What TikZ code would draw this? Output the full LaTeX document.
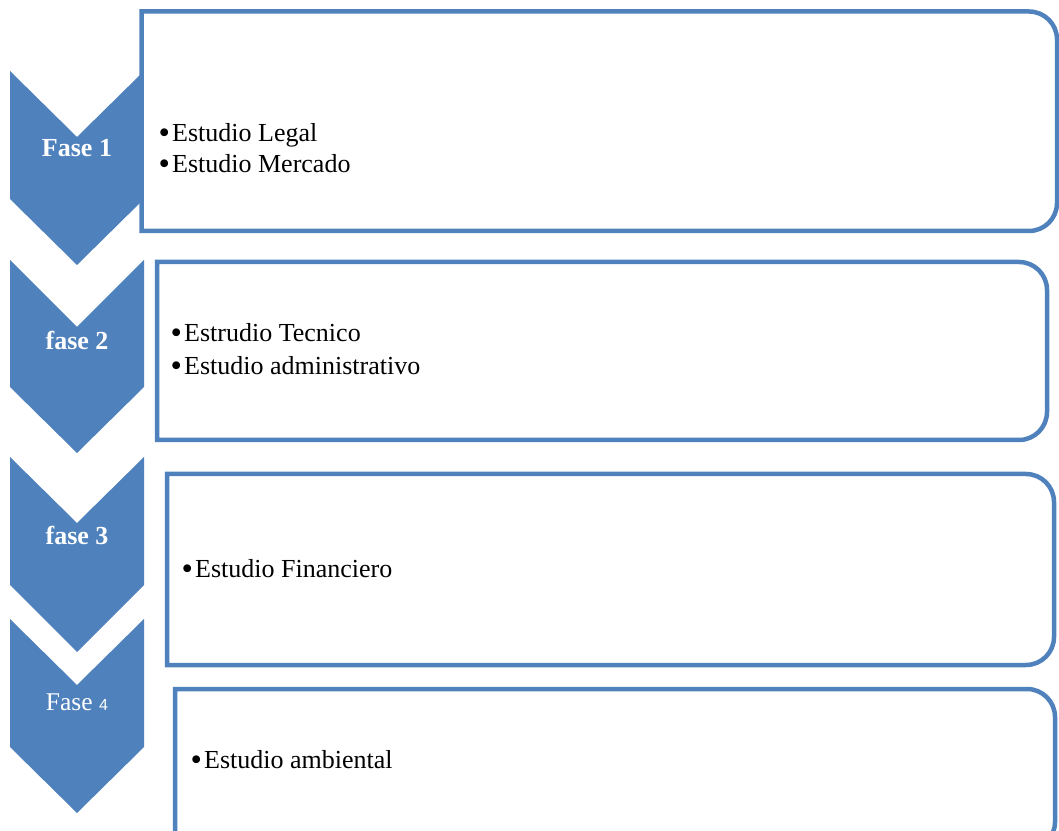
\documentclass[tikz,border=0pt]{standalone}
\usepackage{graphicx}
\usepackage{fontspec}
\setmainfont{Liberation Serif}
\newfontfamily\sansf{Liberation Sans}
\definecolor{chblue}{HTML}{4F81BD}
\tikzset{
  chevron/.style={fill=chblue, draw=none},
  listbox/.style={draw=chblue, line width=4.5pt, fill=white},
  fasetxt/.style={text=white, font=\fontsize{26}{30}\selectfont\bfseries, inner sep=0pt, anchor=base},
  itemtxt/.style={text=black, font=\fontsize{26}{30}\selectfont, inner sep=0pt, anchor=base west}
}
\newcommand\itembul{\makebox[13.5pt][l]{\raisebox{-2pt}{\scalebox{1.25}{\textbullet}}}}
\begin{document}
\begin{tikzpicture}[x=1pt,y=1pt]
\useasboundingbox (0,0) rectangle (1059,830);
\clip (0,0) rectangle (1059,830);
% chevrons
\draw[chevron] (10,759) -- (77,693) -- (144,759) -- (144,631) -- (77,565) -- (10,631) -- cycle;
\draw[chevron] (10,570) -- (77,503) -- (144,570) -- (144,443) -- (77,377) -- (10,443) -- cycle;
\draw[chevron] (10,373) -- (77,307) -- (144,373) -- (144,245) -- (77,178) -- (10,245) -- cycle;
\draw[chevron] (10,211) -- (77,145) -- (144,211) -- (144,83) -- (77,17) -- (10,83) -- cycle;
% boxes (square left corners, rounded right corners)
\draw[listbox] (141.5,818.5) -- (1029,818.5) arc[start angle=90,end angle=0,radius=28pt]
  -- (1057,627) arc[start angle=0,end angle=-90,radius=28pt] -- (141.5,599) -- cycle;
\draw[listbox] (157,568) -- (1019,568) arc[start angle=90,end angle=0,radius=28pt]
  -- (1047,418) arc[start angle=0,end angle=-90,radius=28pt] -- (157,390) -- cycle;
\draw[listbox] (167,356) -- (1026,356) arc[start angle=90,end angle=0,radius=28pt]
  -- (1054,193) arc[start angle=0,end angle=-90,radius=28pt] -- (167,165) -- cycle;
\draw[listbox] (175,141) -- (1027,141) arc[start angle=90,end angle=0,radius=28pt]
  -- (1055,8) arc[start angle=0,end angle=-90,radius=28pt] -- (175,-20) -- cycle;
% phase labels
\node[fasetxt] (f1) at (77,673) {Fase 1};
\node[fasetxt] (f2) at (77,480) {fase 2};
\node[fasetxt] (f3) at (77,285) {fase 3};
\node[fasetxt, font=\fontsize{25.5}{28}\selectfont] (f4) at (77,120) {Fase {\sansf\fontsize{16}{18}\selectfont 4}};
% items
\node[itemtxt] (a1) at (158.5,688.3) {\itembul Estudio Legal};
\node[itemtxt] (a2) at (158.5,657.3) {\itembul Estudio Mercado};
\node[itemtxt] (b1) at (170.5,488) {\itembul Estrudio Tecnico};
\node[itemtxt] (b2) at (170.5,455) {\itembul Estudio administrativo};
\node[itemtxt] (c1) at (181.5,252) {\itembul Estudio Financiero};
\node[itemtxt] (d1) at (190.5,62) {\itembul Estudio ambiental};
\end{tikzpicture}
\end{document}
